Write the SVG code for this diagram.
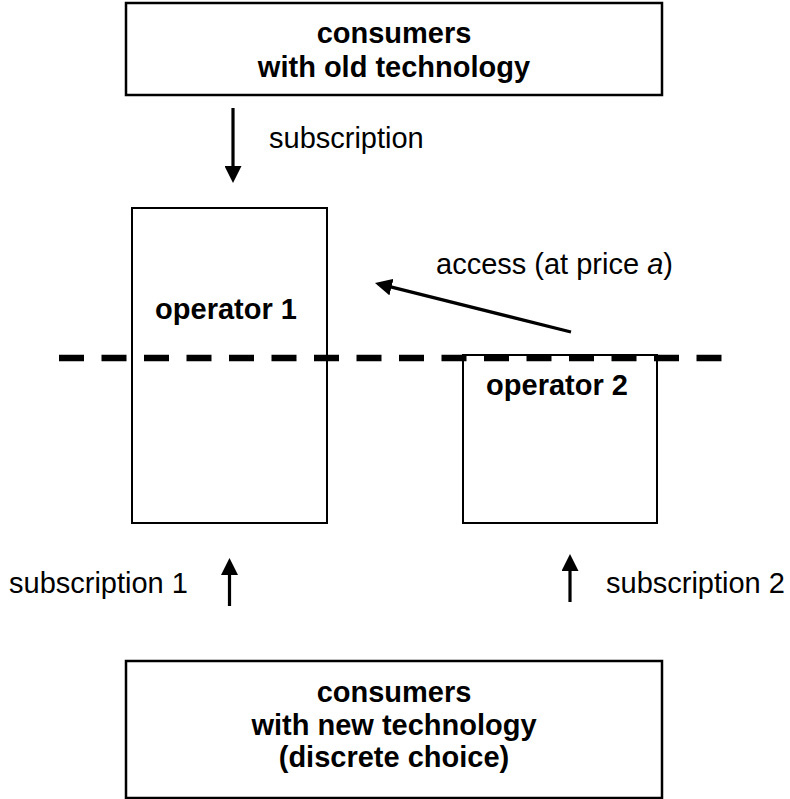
<svg xmlns="http://www.w3.org/2000/svg" width="790" height="799" viewBox="0 0 790 799">
<style>
  .box { fill: #ffffff; stroke: #000000; stroke-width: 2.5; }
  .op { fill: none; stroke: #000000; stroke-width: 2; }
  .b { font-family: "Liberation Sans", Arial, sans-serif; font-weight: bold; font-size: 29px; fill: #000000; text-anchor: middle; }
  .r { font-family: "Liberation Sans", Arial, sans-serif; font-size: 29px; fill: #000000; }
  .arr { stroke: #000000; stroke-width: 3.2; fill: none; marker-end: url(#head); }
  .dash { stroke: #000000; stroke-width: 6.5; stroke-dasharray: 25 17.5; fill: none; }
</style>
<defs>
  <marker id="head" viewBox="0 0 17 17" markerUnits="userSpaceOnUse" markerWidth="17" markerHeight="17" refX="7" refY="8.5" orient="auto">
    <path d="M0,0 L17,8.5 L0,17 Z" fill="#000000"/>
  </marker>
</defs>
<rect width="790" height="799" fill="#ffffff"/>

<g id="consumers-old">
  <rect class="box" x="126" y="3" width="536" height="92"/>
  <text class="b" x="394" y="43">consumers</text>
  <text class="b" x="394" y="77">with old technology</text>
</g>

<g id="operator1">
  <rect class="op" x="132" y="208" width="195" height="315"/>
  <text class="b" x="226" y="319">operator 1</text>
</g>

<g id="operator2">
  <rect class="op" x="463" y="355" width="194" height="168"/>
  <text class="b" x="557" y="395">operator 2</text>
</g>

<g id="divider">
  <line class="dash" x1="59" y1="358" x2="722" y2="358"/>
</g>

<g id="consumers-new">
  <rect class="box" x="126" y="661" width="536" height="137"/>
  <text class="b" x="394" y="702">consumers</text>
  <text class="b" x="394" y="735">with new technology</text>
  <text class="b" x="394" y="767">(discrete choice)</text>
</g>

<g id="connectors">
  <line class="arr" x1="233" y1="108" x2="233" y2="173"/>
  <text class="r" x="269" y="148">subscription</text>
  <line class="arr" x1="571" y1="332" x2="384.7" y2="285.4"/>
  <text class="r" x="436" y="274">access (at price <tspan font-style="italic">a</tspan>)</text>
  <line class="arr" x1="229.5" y1="606" x2="229.5" y2="568"/>
  <text class="r" x="9" y="593">subscription 1</text>
  <line class="arr" x1="570" y1="602" x2="570" y2="564"/>
  <text class="r" x="606" y="593">subscription 2</text>
</g>
</svg>
